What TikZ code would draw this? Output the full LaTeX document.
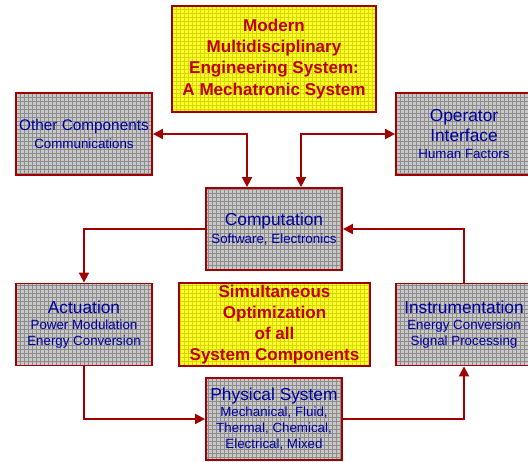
\documentclass[tikz,border=0pt]{standalone}
\usepackage{fontspec}
\setmainfont{Liberation Sans}
\usepackage{tikz}
\usetikzlibrary{positioning,arrows.meta,patterns}
\definecolor{edgered}{HTML}{A00000}
\definecolor{titlered}{HTML}{C00000}
\definecolor{textblue}{HTML}{0000A0}
\definecolor{boxgray}{HTML}{C8C8C8}
\definecolor{gridgray}{HTML}{8C8C8C}
\definecolor{boxyellow}{HTML}{FFFF30}
\definecolor{gridyellow}{HTML}{D8D800}
\newcommand{\subtext}{\fontsize{10}{12}\selectfont}

\begin{document}
\begin{tikzpicture}[
  x=0.75pt, y=-0.75pt,
  part/.style={rectangle, draw=edgered, line width=1.4pt,
    preaction={fill=boxgray}, pattern=grid, pattern color=gridgray,
    minimum width=102pt, minimum height=61.5pt, inner sep=1pt,
    align=center, text=textblue, font=\fontsize{13}{15}\selectfont},
  goal/.style={rectangle, draw=edgered, line width=1.4pt,
    preaction={fill=boxyellow}, pattern=grid, pattern color=gridyellow,
    align=center, text=titlered, inner sep=1pt,
    font=\bfseries\fontsize{12.8}{15.8}\selectfont},
  link/.style={-{Triangle[length=7.5pt,width=7.5pt]}, line width=1.4pt, color=edgered},
  both/.style={{Triangle[length=7.5pt,width=7.5pt]}-{Triangle[length=7.5pt,width=7.5pt]}, line width=1.4pt, color=edgered}
]
\useasboundingbox (0,0) rectangle (528,461);

% Top: headline
\node[goal, minimum width=153pt, minimum height=79.5pt] (head) at (274,59)
  {Modern\\Multidisciplinary\\Engineering System:\\A Mechatronic System};

% Row 1
\node[part, font=\fontsize{11.5}{14}\selectfont] (other) at (84,134)
  {Other Components\\[-1pt]\subtext Communications};
\node[part] (oper) at (464,134)
  {Operator\\Interface\\[-2pt]\subtext Human Factors};

% Row 2
\node[part] (comp) at (274,229)
  {Computation\\[-2pt]\subtext Software, Electronics};

% Row 3
\node[part] (act) at (84,324.5)
  {Actuation\\[-2.75pt]\subtext Power Modulation\\[-3pt]\subtext Energy Conversion};
\node[goal, minimum width=143.25pt, minimum height=62.25pt] (optim) at (274.5,324.5)
  {Simultaneous\\Optimization\\of all\\System Components};
\node[part] (inst) at (464,324.5)
  {Instrumentation\\[-2.75pt]\subtext Energy Conversion\\[-3pt]\subtext Signal Processing};

% Row 4
\node[part] (phys) at (274,419)
  {Physical System\\[-2.75pt]\subtext Mechanical, Fluid,\\[-3pt]\subtext Thermal, Chemical,\\[-3pt]\subtext Electrical, Mixed};

% Arrows
\draw[both] (other.east) -| ([xshift=-20.25pt]comp.north);
\draw[both] (oper.west) -| ([xshift=20.25pt]comp.north);
\draw[link] (comp.west) -| (act.north);
\draw[link] (act.south) |- (phys.west);
\draw[link] (phys.east) -| (inst.south);
\draw[link] (inst.north) |- (comp.east);

\end{tikzpicture}
\end{document}
